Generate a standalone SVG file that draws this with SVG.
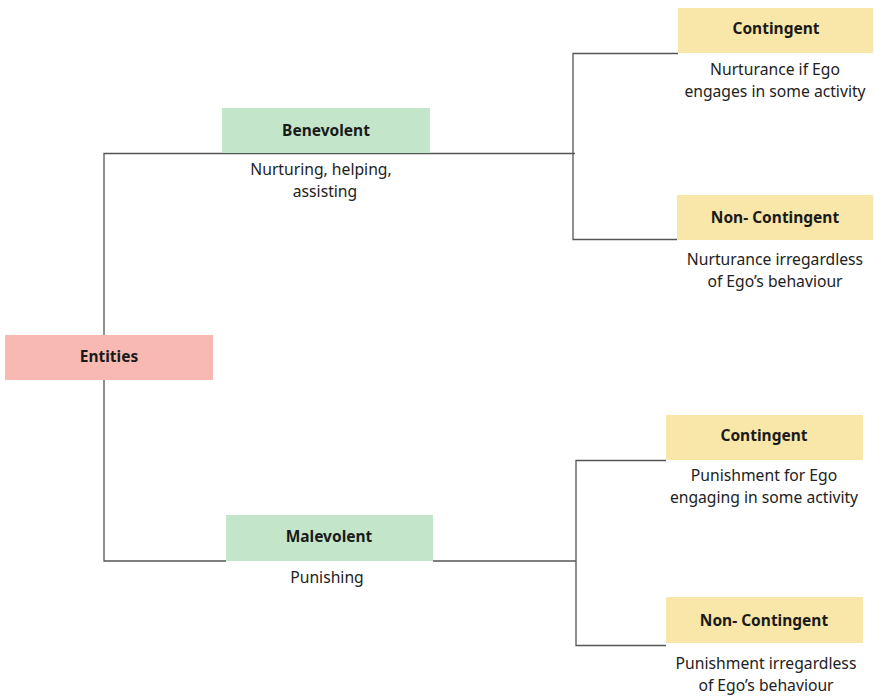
<svg xmlns="http://www.w3.org/2000/svg" width="874" height="696" viewBox="0 0 874 696">
<style>
.t{font-family:"Noto Sans","Open Sans",sans-serif;font-size:15.7px;fill:#222;text-anchor:middle}
.h{font-family:"Noto Sans","Open Sans",sans-serif;font-size:15.5px;font-weight:bold;fill:#1a1a1a;text-anchor:middle}
.c{fill:none;stroke:#555;stroke-width:1.3}
.g{fill:#c3e6cb}.p{fill:#f7b9b1}.y{fill:#f8e7a8}
</style>
<rect width="874" height="696" fill="#fff"/>
<g id="connectors">
<path class="c" d="M104 335V153.5H575"/>
<path class="c" d="M104 380V561H226"/>
<path class="c" d="M433 561H576"/>
<path class="c" d="M678 53.5H573V239.5H677"/>
<path class="c" d="M666 460.5H576V645.5H666"/>
</g>
<g id="entities"><rect class="p" x="5" y="335" width="208" height="45"/><text class="h" x="109" y="362">Entities</text></g>
<g id="benevolent"><rect class="g" x="222" y="108" width="208" height="45"/><text class="h" x="326" y="136">Benevolent</text>
<text class="t" x="321" y="175">Nurturing, helping,</text><text class="t" x="325" y="197">assisting</text></g>
<g id="malevolent"><rect class="g" x="226" y="515" width="207" height="46"/><text class="h" x="329" y="542">Malevolent</text>
<text class="t" x="327" y="583">Punishing</text></g>
<g id="b-contingent"><rect class="y" x="678" y="8" width="195" height="45"/><text class="h" x="776" y="34">Contingent</text>
<text class="t" x="775" y="75">Nurturance if Ego</text><text class="t" x="775" y="97">engages in some activity</text></g>
<g id="b-noncontingent"><rect class="y" x="677" y="195" width="196" height="45"/><text class="h" x="775" y="223">Non- Contingent</text>
<text class="t" x="775" y="265">Nurturance irregardless</text><text class="t" x="775" y="287">of Ego’s behaviour</text></g>
<g id="m-contingent"><rect class="y" x="666" y="415" width="197" height="45"/><text class="h" x="764" y="441">Contingent</text>
<text class="t" x="764" y="481">Punishment for Ego</text><text class="t" x="764" y="503">engaging in some activity</text></g>
<g id="m-noncontingent"><rect class="y" x="666" y="597" width="197" height="46"/><text class="h" x="764" y="626">Non- Contingent</text>
<text class="t" x="766" y="669">Punishment irregardless</text><text class="t" x="766" y="691">of Ego’s behaviour</text></g>
</svg>
